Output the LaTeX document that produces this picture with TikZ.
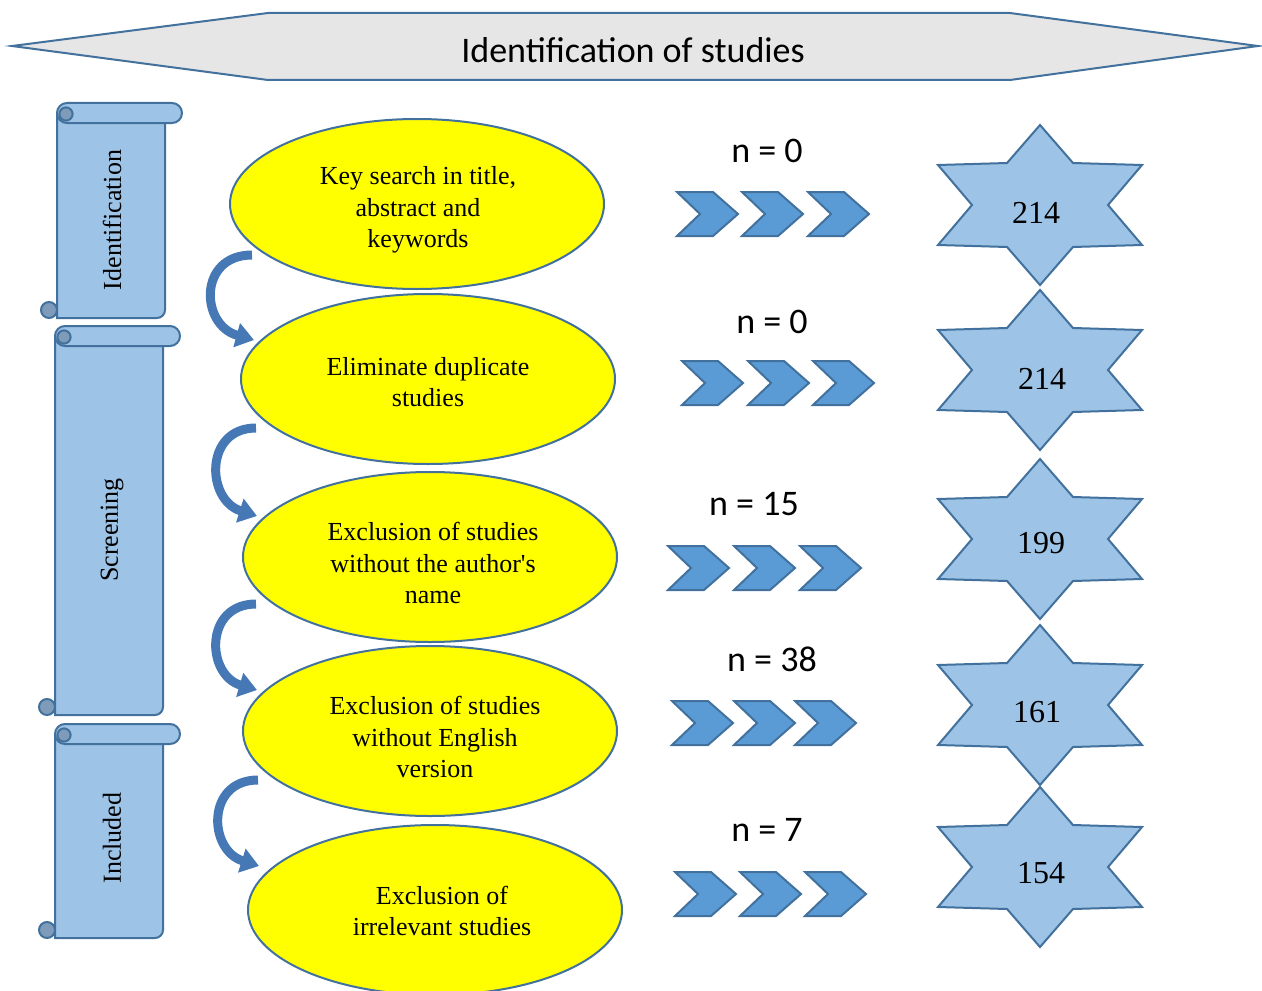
\documentclass[tikz,border=0pt]{standalone}
\usepackage{fontspec}
\setmainfont{Liberation Serif}
\newfontfamily\calibri{Carlito}
\usetikzlibrary{shapes.geometric,arrows.meta}
\definecolor{bstroke}{HTML}{41719C}
\definecolor{lblue}{HTML}{9DC3E6}
\definecolor{mblue}{HTML}{5B9BD5}
\definecolor{bannerg}{HTML}{E6E6E6}
\definecolor{curlc}{HTML}{7E9CBA}
\definecolor{arrowc}{HTML}{4578B4}
\definecolor{ylw}{HTML}{FFFF00}

\newcommand{\myscroll}[4]{% x0, ytop, x1, ybot
  \draw[scr] (#1,{#2+10}) -- (#1,#4) {[rounded corners=4pt] -- (#3,#4) -- (#3,{#2+10})} -- cycle;
  \draw[scr, rounded corners=5pt] (#1,#2) rectangle ({#3+17},{#2+20});
  \draw[scr, fill=curlc] ({#1+9},{#2+11}) circle (3.3pt);
  \draw[scr, fill=curlc] ({#1-8},{#4-8}) circle (4pt);
}
\newcommand{\mychev}[2]{% left x, center y
  \draw[chevst] (#1,{#2-22}) -- ({#1+36},{#2-22}) -- ({#1+61},#2) -- ({#1+36},{#2+22}) -- (#1,{#2+22}) -- ({#1+23},#2) -- cycle;
}
\newcommand{\mystar}[2]{% center
  \draw[starst, shift={(#1,#2)}] (0,-80) -- (33,-42) -- (102,-40) -- (68,0) -- (102,40) -- (33,42) -- (0,80) -- (-33,42) -- (-102,40) -- (-68,0) -- (-102,-40) -- (-33,-42) -- cycle;
}

\begin{document}
\begin{tikzpicture}[x=0.5pt,y=-0.5pt,
  scr/.style={draw=bstroke, fill=lblue, line width=1pt},
  chevst/.style={draw=bstroke, fill=mblue, line width=1pt, line join=miter},
  starst/.style={draw=bstroke, fill=lblue, line width=1pt},
  ell/.style={ellipse, draw=bstroke, fill=ylw, line width=1pt, minimum width=187pt, minimum height=85pt, inner sep=0pt},
  etext/.style={align=center, inner sep=0pt, font=\fontsize{13}{15.7}\selectfont},
  nlab/.style={font=\calibri\fontsize{18}{21}\selectfont, inner sep=0pt},
  stlab/.style={font=\fontsize{16}{18}\selectfont, inner sep=0pt},
  sclab/.style={rotate=90, font=\fontsize{13}{15}\selectfont, inner sep=0pt},
  carrow/.style={draw=arrowc, line width=4.5pt, -{Triangle[length=9pt,width=12pt]}}
]
\useasboundingbox (0,0) rectangle (1262,990);
\clip (0,0) rectangle (1262,990);

% banner
\draw[draw=bstroke, fill=bannerg, line width=1pt, line join=miter]
  (12,46) -- (268,13) -- (1010,13) -- (1258,46) -- (1010,80) -- (268,80) -- cycle;
\node[font=\calibri\fontsize{18}{21}\selectfont, inner sep=0pt] (banner) at (633,50) {Identification of studies};

% scrolls
\myscroll{57}{103}{165}{318}
\myscroll{55}{326}{163}{715}
\myscroll{55}{724}{163}{938}
\node[sclab] (sc1) at (112,220) {Identification};
\node[sclab] (sc2) at (112,530) {Screening};
\node[sclab] (sc3) at (112,838) {Included};

% ellipses
\node[ell] (e1) at (417,204) {};
\node[ell] (e2) at (428,379) {};
\node[ell] (e3) at (430,557) {};
\node[ell] (e4) at (430,731) {};
\node[ell] (e5) at (435,910) {};
\node[etext] (t1) at (418,210) {Key search in title,\\abstract and\\keywords};
\node[etext] (t2) at (428,382) {Eliminate duplicate\\studies};
\node[etext] (t3) at (433,563) {Exclusion of studies\\without the author\textquotesingle s\\name};
\node[etext] (t4) at (435,737) {Exclusion of studies\\without English\\version};
\node[etext] (t5) at (442,911) {Exclusion of\\irrelevant studies};

% curved arrows
\coordinate (a1s) at (252,255); \coordinate (a1e) at (254,340);
\coordinate (a2s) at (256,428); \coordinate (a2e) at (257,516);
\coordinate (a3s) at (256,604); \coordinate (a3e) at (257,690);
\coordinate (a4s) at (258,780); \coordinate (a4e) at (259,866);
\draw[carrow] (a1s) .. controls (198,255) and (200,325) .. (a1e);
\draw[carrow] (a2s) .. controls (204,428) and (206,500) .. (a2e);
\draw[carrow] (a3s) .. controls (204,604) and (206,675) .. (a3e);
\draw[carrow] (a4s) .. controls (206,780) and (208,850) .. (a4e);

% chevrons
\mychev{677}{214}\mychev{742}{214}\mychev{808}{214}
\mychev{682}{383}\mychev{748}{383}\mychev{813}{383}
\mychev{668}{568}\mychev{734}{568}\mychev{800}{568}
\mychev{672}{723}\mychev{734}{723}\mychev{795}{723}
\mychev{675}{894}\mychev{740}{894}\mychev{805}{894}

% n labels
\node[nlab] (n1) at (767,151) {n = 0};
\node[nlab] (n2) at (772,322) {n = 0};
\node[nlab] (n3) at (754,504) {n = 15};
\node[nlab] (n4) at (772,659) {n = 38};
\node[nlab] (n5) at (767,830) {n = 7};

% stars
\mystar{1040}{205}
\mystar{1040}{370}
\mystar{1040}{539}
\mystar{1040}{705}
\mystar{1040}{867}
\node[stlab] (s1) at (1036,213) {214};
\node[stlab] (s2) at (1042,379) {214};
\node[stlab] (s3) at (1041,543) {199};
\node[stlab] (s4) at (1037,712) {161};
\node[stlab] (s5) at (1041,873) {154};
\end{tikzpicture}
\end{document}
